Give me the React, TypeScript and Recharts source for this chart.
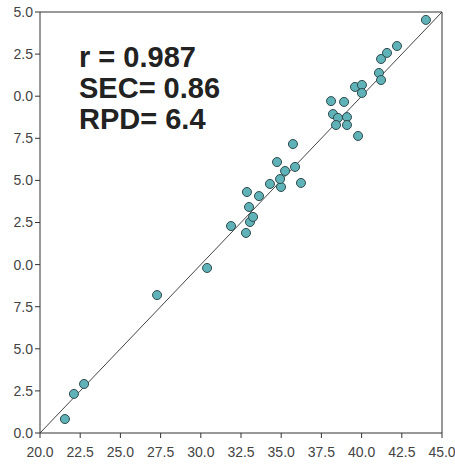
import {
  ScatterChart,
  Scatter,
  XAxis,
  YAxis,
  ZAxis,
  ReferenceLine
} from "recharts";

const measured = [
  21.55, 22.11, 22.74, 27.28, 30.39, 31.88, 32.81, 33.06, 33.25, 33.0,
  32.87, 33.62, 34.3, 34.99, 34.93, 35.24, 34.74, 35.86, 35.73, 36.23,
  38.1, 38.91, 38.22, 38.53, 39.09, 38.41, 39.09, 39.78, 39.59, 40.02,
  40.02, 41.08, 41.21, 41.21, 41.58, 42.2, 44.0
];
const predicted = [
  20.83, 22.32, 22.91, 28.19, 29.8, 32.29, 31.88, 32.53, 32.83, 33.42,
  34.31, 34.07, 34.79, 34.61, 35.08, 35.56, 36.09, 35.8, 37.16, 34.85,
  39.71, 39.66, 38.94, 38.71, 38.76, 38.29, 38.29, 37.64, 40.55, 40.67,
  40.19, 41.38, 40.96, 42.21, 42.57, 42.98, 44.53
];
const ticks = [20, 22.5, 25, 27.5, 30, 32.5, 35, 37.5, 40, 42.5, 45];
const stats = ["r = 0.987", "SEC= 0.86", "RPD= 6.4"];

const points = measured.map((x, i) => ({ x, y: predicted[i] }));

const tickStyle = { fontSize: 14, fill: "#444", fontFamily: "Liberation Sans, Arial, sans-serif" };

export default function App() {
  return (
    <div style={{ position: "absolute", left: 0, top: 0, width: 455, height: 464, background: "#fff" }}>
      <ScatterChart width={455} height={464} margin={{ top: 12, right: 13, left: 0, bottom: 0 }}>
        <XAxis
          type="number"
          dataKey="x"
          domain={[20, 45]}
          ticks={ticks}
          interval={0}
          tickFormatter={(v: number) => v.toFixed(1)}
          tick={tickStyle}
          tickSize={5}
          tickMargin={9}
          height={31}
          stroke="#333"
          allowDataOverflow
        />
        <YAxis
          type="number"
          dataKey="y"
          domain={[20, 45]}
          ticks={ticks}
          interval={0}
          tickFormatter={(v: number) => v.toFixed(1).slice(-3)}
          tick={tickStyle}
          tickSize={5}
          tickMargin={2}
          width={40}
          stroke="#333"
          allowDataOverflow
        />
        <ZAxis range={[95, 95]} />
        <ReferenceLine y={45} stroke="#333" />
        <ReferenceLine x={45} stroke="#333" />
        <ReferenceLine
          segment={[{ x: 20, y: 20 }, { x: 45, y: 45 }]}
          stroke="#444"
          strokeWidth={1}
        />
        <Scatter
          data={points}
          fill="#5fb3b8"
          stroke="#2e4a4c"
          strokeWidth={1}
          isAnimationActive={false}
        />
      </ScatterChart>
      {stats.map((s, i) => (
        <div
          key={s}
          style={{
            position: "absolute",
            left: 79,
            top: 42 + i * 31,
            fontFamily: "Liberation Sans, Arial, sans-serif",
            fontWeight: "bold",
            fontSize: 29,
            lineHeight: "31px",
            color: "#222",
            whiteSpace: "nowrap"
          }}
        >
          {s}
        </div>
      ))}
    </div>
  );
}
